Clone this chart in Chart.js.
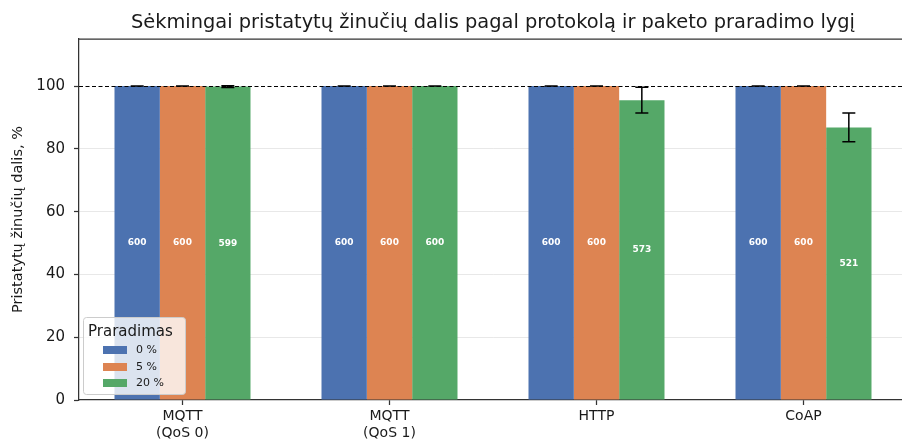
<!DOCTYPE html>
<html><head><meta charset="utf-8">
<script src="https://cdn.jsdelivr.net/npm/chart.js@4"></script>
<style>html,body{margin:0;padding:0;overflow:hidden;background:#fff}</style>
</head><body>
<canvas id="c" width="912" height="445"></canvas>
<script>
const categories = [['MQTT','(QoS 0)'], ['MQTT','(QoS 1)'], 'HTTP', 'CoAP'];
const lossLevels = ['0 %', '5 %', '20 %'];
const deliveredLoss0 = [600, 600, 600, 600];
const deliveredLoss5 = [600, 600, 600, 600];
const deliveredLoss20 = [599, 600, 573, 521];
const pctLoss0 = [100, 100, 100, 100];
const pctLoss5 = [100, 100, 100, 100];
const pctLoss20 = [99.83, 100, 95.5, 86.83];
const errLoss0 = [0, 0, 0, 0];
const errLoss5 = [0, 0, 0, 0];
const errLoss20 = [0.3, 0, 4.1, 4.6];
const yTicks = [0, 20, 40, 60, 80, 100];
const refLineValue = 100;
const titleText = 'Sėkmingai pristatytų žinučių dalis pagal protokolą ir paketo praradimo lygį';
const yTitle = 'Pristatytų žinučių dalis, %';
const legendTitle = 'Praradimas';
const colors = ['#4C72B0', '#DD8452', '#55A868'];

const FONT = "'DejaVu Sans', sans-serif";
Chart.defaults.font.family = FONT;

const seriesPct = [pctLoss0, pctLoss5, pctLoss20];
const seriesCnt = [deliveredLoss0, deliveredLoss5, deliveredLoss20];
const seriesErr = [errLoss0, errLoss5, errLoss20];

const datasets = lossLevels.map((lbl, i) => ({
  label: lbl,
  data: seriesPct[i],
  counts: seriesCnt[i],
  errors: seriesErr[i],
  backgroundColor: colors[i],
  borderWidth: 0,
  categoryPercentage: 0.657,
  barPercentage: 1.0
}));

const titlePlugin = {
  id: 'titleP',
  afterDraw(chart) {
    const ctx = chart.ctx, a = chart.chartArea;
    ctx.save();
    ctx.font = '19.4px ' + FONT;
    ctx.fillStyle = '#1a1a1a';
    ctx.textAlign = 'center';
    ctx.textBaseline = 'alphabetic';
    ctx.fillText(titleText, (a.left + a.right) / 2, 28);
    ctx.restore();
  }
};

const overlayPlugin = {
  id: 'overlay',
  afterDatasetsDraw(chart) {
    const ctx = chart.ctx, a = chart.chartArea;
    const y = chart.scales.y;
    ctx.save();
    const yr = Math.round(y.getPixelForValue(refLineValue)) + 0.5;
    ctx.strokeStyle = '#000';
    ctx.lineWidth = 1;
    ctx.setLineDash([4, 2.5]);
    ctx.beginPath(); ctx.moveTo(a.left, yr); ctx.lineTo(a.right, yr); ctx.stroke();
    ctx.setLineDash([]);
    ctx.strokeStyle = '#000';
    ctx.lineWidth = 1.5;
    chart.data.datasets.forEach((ds, di) => {
      const meta = chart.getDatasetMeta(di);
      meta.data.forEach((el, j) => {
        const v = ds.data[j], e = ds.errors[j];
        const yt = y.getPixelForValue(v + e), yb = y.getPixelForValue(v - e);
        const x = el.x;
        ctx.beginPath();
        ctx.moveTo(x, yt); ctx.lineTo(x, yb);
        ctx.moveTo(x - 6.5, yt); ctx.lineTo(x + 6.5, yt);
        ctx.moveTo(x - 6.5, yb); ctx.lineTo(x + 6.5, yb);
        ctx.stroke();
      });
    });
    ctx.font = 'bold 9px ' + FONT;
    ctx.fillStyle = '#fff';
    ctx.textAlign = 'center';
    ctx.textBaseline = 'middle';
    chart.data.datasets.forEach((ds, di) => {
      const meta = chart.getDatasetMeta(di);
      meta.data.forEach((el, j) => {
        ctx.fillText(String(ds.counts[j]), el.x, y.getPixelForValue(ds.data[j] / 2));
      });
    });
    ctx.strokeStyle = '#333';
    ctx.lineWidth = 1.25;
    ctx.beginPath();
    ctx.moveTo(a.left, a.top); ctx.lineTo(a.right, a.top); ctx.lineTo(a.right, a.bottom);
    ctx.stroke();
    const lx = 83, ly = 317, lw = 102, lh = 77;
    ctx.fillStyle = 'rgba(255,255,255,0.8)';
    ctx.strokeStyle = '#cccccc';
    ctx.lineWidth = 1;
    ctx.beginPath();
    if (ctx.roundRect) ctx.roundRect(lx + 0.5, ly + 0.5, lw, lh, 3); else ctx.rect(lx + 0.5, ly + 0.5, lw, lh);
    ctx.fill(); ctx.stroke();
    ctx.fillStyle = '#1a1a1a';
    ctx.font = '15px ' + FONT;
    ctx.textAlign = 'left';
    ctx.textBaseline = 'middle';
    ctx.fillText(legendTitle, 88, 332);
    const rows = [350, 367, 383];
    ctx.font = '11px ' + FONT;
    chart.data.datasets.forEach((ds, di) => {
      ctx.fillStyle = ds.backgroundColor;
      ctx.fillRect(103, rows[di] - 4, 24, 8);
      ctx.fillStyle = '#1a1a1a';
      ctx.fillText(ds.label, 136, rows[di]);
    });
    ctx.restore();
  }
};

new Chart(document.getElementById('c'), {
  type: 'bar',
  data: { labels: categories, datasets },
  options: {
    responsive: false,
    animation: false,
    devicePixelRatio: 1,
    layout: { padding: { top: 39, right: 5, left: 0, bottom: 0 } },
    plugins: { legend: { display: false }, title: { display: false }, tooltip: { enabled: false } },
    scales: {
      x: {
        afterFit: s => { s.height = 45; },
        grid: { display: true, drawOnChartArea: false, offset: false, tickLength: 5, tickColor: '#333', tickWidth: 1.25 },
        border: { color: '#333', width: 1.25 },
        ticks: { font: { size: 14 }, color: '#1a1a1a', padding: 3, maxRotation: 0, autoSkip: false }
      },
      y: {
        min: 0, max: 115,
        afterBuildTicks: s => { s.ticks = yTicks.map(v => ({ value: v })); },
        afterFit: s => { s.width = 79; },
        grid: {
          color: c => (c.tick && (c.tick.value === 0 || c.tick.value === 100)) ? 'rgba(0,0,0,0)' : '#e8e8e8',
          lineWidth: 1, tickLength: 5, tickColor: '#333', tickWidth: 1.25
        },
        border: { color: '#333', width: 1.25 },
        ticks: { font: { size: 15 }, color: '#1a1a1a', padding: 9 },
        title: { display: true, text: yTitle, font: { size: 14.5 }, color: '#1a1a1a', padding: { top: 10, bottom: 0 } }
      }
    }
  },
  plugins: [titlePlugin, overlayPlugin]
});
</script>
</body></html>
